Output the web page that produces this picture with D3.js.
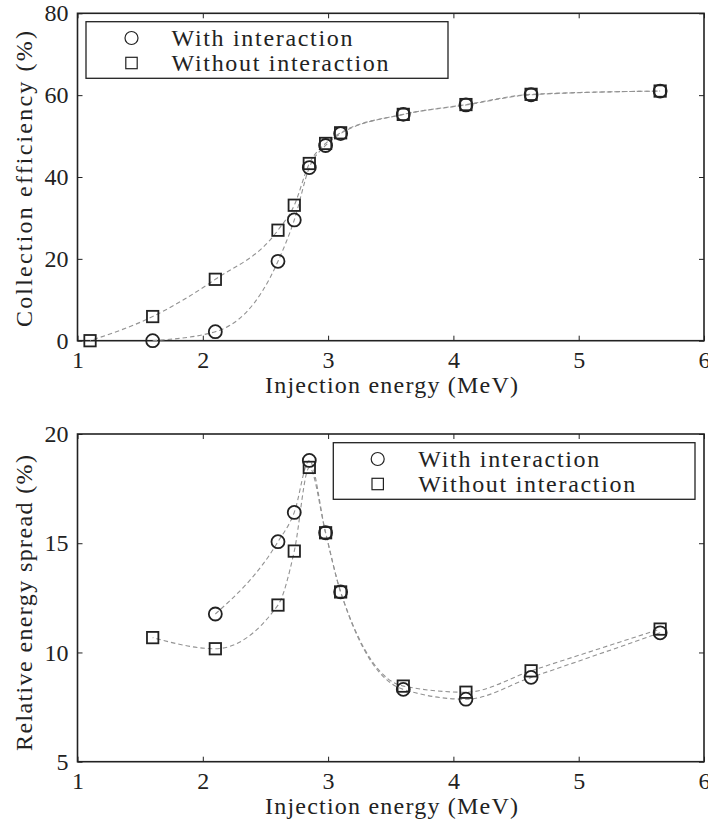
<!DOCTYPE html>
<html>
<head>
<meta charset="utf-8">
<script src="https://cdn.jsdelivr.net/npm/d3@7/dist/d3.min.js"></script>
</head>
<body style="margin:0">
<svg id="chart" width="708" height="824" font-family="Liberation Serif"></svg>
<script>
// Injection energies (MeV)
const energyWith = [1.6, 2.1, 2.6, 2.73, 2.85, 2.98, 3.1, 3.6, 4.1, 4.62, 5.65];
const energyWithout = [1.1, 1.6, 2.1, 2.6, 2.73, 2.85, 2.98, 3.1, 3.6, 4.1, 4.62, 5.65];

// Collection efficiency (%)
const effWith = [0, 2.2, 19.4, 29.5, 42.3, 47.7, 50.6, 55.3, 57.6, 60.1, 61.0];
const effWithout = [0, 5.9, 15.0, 27.0, 33.1, 43.3, 48.2, 50.8, 55.3, 57.7, 60.2, 61.0];

// Relative energy spread (%)
const spreadEnergyWith = [2.1, 2.6, 2.73, 2.85, 2.98, 3.1, 3.6, 4.1, 4.62, 5.65];
const spreadWith = [11.76, 15.07, 16.41, 18.79, 15.48, 12.77, 8.31, 7.86, 8.86, 10.9];
const spreadEnergyWithout = [1.6, 2.1, 2.6, 2.73, 2.85, 2.98, 3.1, 3.6, 4.1, 4.62, 5.65];
const spreadWithout = [10.68, 10.17, 12.17, 14.64, 18.47, 15.48, 12.77, 8.46, 8.18, 9.16, 11.07];

const xTicks = [1, 2, 3, 4, 5, 6];
const effTicks = [0, 20, 40, 60, 80];
const spreadTicks = [5, 10, 15, 20];
const seriesNames = ["With interaction", "Without interaction"];

const FONT = "Liberation Serif";
const INK = "#222";
const svg = d3.select("#chart");

function zip(xs, ys) { return xs.map((x, i) => ({ x, y: ys[i] })); }

function label(g, txt, len) {
  return g.append("text").text(txt)
    .attr("font-family", FONT).attr("font-size", 24).attr("fill", INK)
    .attr("textLength", len).attr("lengthAdjust", "spacing");
}

function drawMarker(sel, shape, sw) {
  if (shape === "circle") {
    sel.append("circle").attr("r", 6.5).attr("fill", "none").attr("stroke", INK).attr("stroke-width", sw);
  } else {
    sel.append("rect").attr("x", -5.7).attr("y", -5.7).attr("width", 11.4).attr("height", 11.4)
      .attr("fill", "none").attr("stroke", INK).attr("stroke-width", sw);
  }
}

function panel(cfg) {
  const x = d3.scaleLinear().domain([1, 6]).range([77.5, 704]);
  const y = d3.scaleLinear().domain(cfg.yDomain).range([cfg.bottom, cfg.top]);
  const g = svg.append("g").attr("font-family", FONT);

  // inward ticks on all four sides of the box
  const tickLen = 5;
  const axes = [
    g.append("g").attr("transform", `translate(0,${cfg.bottom})`)
      .call(d3.axisBottom(x).tickValues(xTicks).tickSizeInner(-tickLen).tickSizeOuter(0).tickPadding(10).tickFormat(d3.format("d"))),
    g.append("g").attr("transform", `translate(0,${cfg.top})`)
      .call(d3.axisTop(x).tickValues(xTicks).tickSizeInner(-tickLen).tickSizeOuter(0).tickFormat("")),
    g.append("g").attr("transform", `translate(77.5,0)`)
      .call(d3.axisLeft(y).tickValues(cfg.yTicks).tickSizeInner(-tickLen).tickSizeOuter(0).tickPadding(9).tickFormat(d3.format("d"))),
    g.append("g").attr("transform", `translate(704,0)`)
      .call(d3.axisRight(y).tickValues(cfg.yTicks).tickSizeInner(-tickLen).tickSizeOuter(0).tickFormat(""))
  ];
  axes.forEach(a => a.attr("font-family", FONT).attr("font-size", 24));
  g.selectAll(".domain").remove();
  g.selectAll(".tick line").attr("stroke", INK).attr("stroke-width", 1);
  g.selectAll(".tick text").attr("font-family", FONT).attr("font-size", 24).attr("fill", INK);

  g.append("rect")
    .attr("x", x(1)).attr("y", cfg.top)
    .attr("width", x(6) - x(1)).attr("height", cfg.bottom - cfg.top)
    .attr("fill", "none").attr("stroke", INK).attr("stroke-width", 1.6);

  // fitted curves (shape-preserving)
  const line = d3.line().x(d => x(d.x)).y(d => y(d.y)).curve(d3.curveMonotoneX);
  cfg.series.forEach((s, i) => {
    g.append("path").datum(s.data).attr("d", line)
      .attr("fill", "none").attr("stroke", "#939393").attr("stroke-width", 1.1)
      .attr("stroke-dasharray", "4.5,3").attr("stroke-dashoffset", i * 3.7);
  });

  // data markers
  cfg.series.forEach(s => {
    const m = g.append("g").selectAll("g").data(s.data).join("g")
      .attr("transform", d => `translate(${x(d.x)},${y(d.y)})`);
    drawMarker(m, s.shape, 1.8);
  });

  // axis titles
  label(g, "Injection energy (MeV)", 253).attr("x", 265).attr("y", cfg.bottom + 52);
  label(g, cfg.yLabel, cfg.yLabelLen)
    .attr("transform", `translate(32,${cfg.yLabelMid + cfg.yLabelLen / 2}) rotate(-90)`);

  // legend
  const L = cfg.legend;
  g.append("rect").attr("x", L.x).attr("y", L.y).attr("width", L.w).attr("height", L.h)
    .attr("fill", "#fff").attr("stroke", INK).attr("stroke-width", 1.3);
  cfg.series.forEach((s, i) => {
    const cy = L.y + 16.3 + i * 25;
    const m = g.append("g").attr("transform", `translate(${L.x + L.mx},${cy})`);
    drawMarker(m, s.shape, 1.2);
    label(g, seriesNames[i], i === 0 ? 181 : 217).attr("x", L.x + L.tx).attr("y", cy + 7.5);
  });
}

panel({
  top: 13.3, bottom: 340.7, yDomain: [0, 80], yTicks: effTicks,
  yLabel: "Collection efficiency (%)", yLabelMid: 179, yLabelLen: 296,
  series: [
    { shape: "circle", data: zip(energyWith, effWith) },
    { shape: "square", data: zip(energyWithout, effWithout) }
  ],
  legend: { x: 86, y: 21.7, w: 362, h: 56.6, mx: 45.5, tx: 85.5 }
});

panel({
  top: 434, bottom: 761.7, yDomain: [5, 20], yTicks: spreadTicks,
  yLabel: "Relative energy spread (%)", yLabelMid: 603, yLabelLen: 296,
  series: [
    { shape: "circle", data: zip(spreadEnergyWith, spreadWith) },
    { shape: "square", data: zip(spreadEnergyWithout, spreadWithout) }
  ],
  legend: { x: 333.3, y: 442.7, w: 361.7, h: 56.6, mx: 44.4, tx: 85 }
});
</script>
</body>
</html>
